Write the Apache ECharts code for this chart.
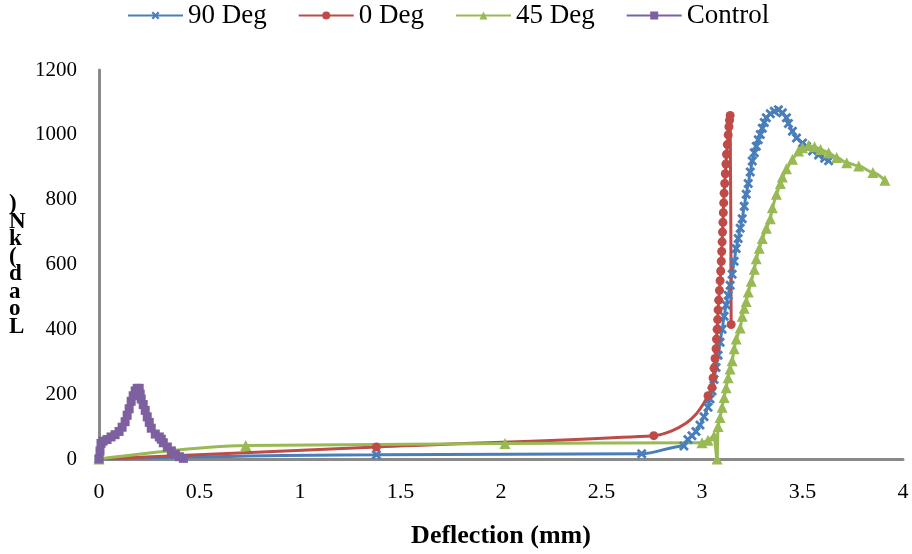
<!DOCTYPE html>
<html>
<head>
<meta charset="utf-8">
<script src="https://cdn.jsdelivr.net/npm/echarts@6/dist/echarts.min.js"></script>
<style>
html,body{margin:0;padding:0;background:#fff;}
#chart{width:912px;height:554px;}
</style>
</head>
<body>
<div id="chart"></div>
<script>
var seriesNames = ['90 Deg', '0 Deg', '45 Deg', 'Control'];
var xTicks = ['0', '0.5', '1', '1.5', '2', '2.5', '3', '3.5', '4'];
var yTicks = ['0', '200', '400', '600', '800', '1000', '1200'];
var xTitle = 'Deflection (mm)';
var yTitle = 'Load (kN)';

var deg90 = [[0,0],[1.38,13],[2.70,16],[2.91,40],[2.93,60],[2.95,72],[2.97,85],[2.99,105],[3.01,130],[3.03,160],[3.04,185],[3.05,210],[3.06,245],[3.07,282],[3.08,320],[3.09,360],[3.10,400],[3.11,440],[3.12,475],[3.13,505],[3.14,536],[3.15,570],[3.16,610],[3.17,649],[3.18,680],[3.19,712],[3.20,741],[3.21,780],[3.22,817],[3.23,850],[3.24,885],[3.25,919],[3.26,945],[3.27,965],[3.28,985],[3.29,1001],[3.30,1020],[3.31,1038],[3.32,1053],[3.34,1065],[3.36,1073],[3.38,1077],[3.40,1068],[3.42,1053],[3.43,1035],[3.45,1011],[3.47,990],[3.50,975],[3.52,965],[3.55,950],[3.58,938],[3.61,928],[3.63,920]];

var deg0 = [[0,0],[1.38,37],[2.76,72],[3.03,195],[3.05,220],[3.055,250],[3.06,280],[3.065,310],[3.07,340],[3.072,370],[3.075,400],[3.078,430],[3.08,460],[3.083,490],[3.087,520],[3.09,550],[3.093,580],[3.096,610],[3.098,640],[3.10,670],[3.102,700],[3.104,730],[3.106,760],[3.108,790],[3.11,820],[3.113,850],[3.116,880],[3.119,910],[3.122,940],[3.126,970],[3.13,1000],[3.134,1025],[3.137,1045],[3.14,1060],[3.145,415]];
// points read along the unmarked stretch of the 0 Deg curve (drawn without a marker)
var deg0Curve = [[2.85,87],[2.92,110],[2.97,138],[3.005,168]];

var deg45 = [[0,0],[0.73,42],[2.02,48],[3.0,50],[3.03,58],[3.06,72],[3.075,0],[3.08,100],[3.09,128],[3.10,160],[3.11,190],[3.12,220],[3.13,251],[3.14,278],[3.15,303],[3.16,340],[3.17,370],[3.19,404],[3.20,440],[3.21,465],[3.22,486],[3.23,515],[3.245,548],[3.26,585],[3.27,618],[3.285,650],[3.30,680],[3.32,712],[3.34,741],[3.35,775],[3.37,817],[3.39,850],[3.40,870],[3.42,895],[3.45,925],[3.48,950],[3.50,960],[3.53,967],[3.56,963],[3.59,955],[3.63,945],[3.67,930],[3.72,914],[3.78,904],[3.85,884],[3.91,860]];

var control = [[0,0],[0.005,25],[0.01,48],[0.02,55],[0.04,60],[0.06,68],[0.08,75],[0.10,85],[0.115,98],[0.13,115],[0.14,135],[0.15,155],[0.16,178],[0.17,195],[0.18,210],[0.19,218],[0.20,218],[0.205,200],[0.21,185],[0.22,168],[0.23,150],[0.24,130],[0.25,113],[0.26,95],[0.28,77],[0.30,68],[0.31,61],[0.32,50],[0.34,37],[0.36,25],[0.38,15],[0.40,7],[0.42,2]];

var colors = ['#4A7EBB', '#BE4B48', '#98B954', '#7D60A0'];
var serif = '"Liberation Serif", "Times New Roman", serif';
var starPath = 'path://M2,0 L5,3 L8,0 L10,2 L7,5 L10,8 L8,10 L5,7 L2,10 L0,8 L3,5 L0,2 Z';

function mk(name, data, color, symbol, size, monotone) {
  var s = {
    name: name, type: 'line', data: data, smooth: 0.3,
    symbol: symbol, symbolSize: size, showSymbol: true,
    lineStyle: {color: color, width: 3},
    itemStyle: {color: color},
    emphasis: {disabled: true}
  };
  if (monotone) s.smoothMonotone = 'x';
  return s;
}

var deg0Data = [];
deg0.forEach(function (p) {
  deg0Data.push({value: p});
  if (p[0] === 2.76) {
    deg0Curve.forEach(function (q) { deg0Data.push({value: q, symbol: 'none'}); });
  }
});

var chart = echarts.init(document.getElementById('chart'));
chart.setOption({
  animation: false,
  color: colors,
  legend: {
    data: seriesNames, top: -3, left: 122, itemGap: 31,
    itemWidth: 55, itemHeight: 10,
    textStyle: {fontFamily: serif, fontSize: 27, color: '#000'}
  },
  grid: {left: 99, right: 9, top: 70, bottom: 92},
  xAxis: {
    type: 'value', min: 0, max: 4, interval: 0.5,
    name: xTitle, nameLocation: 'middle', nameGap: 64,
    nameTextStyle: {fontFamily: serif, fontSize: 26, fontWeight: 'bold', color: '#000'},
    axisLine: {lineStyle: {color: '#898989', width: 3}},
    axisTick: {show: false},
    splitLine: {show: false},
    axisLabel: {fontFamily: serif, fontSize: 22, color: '#000', margin: 22,
      formatter: function (v) { var i = Math.round(v / 0.5); return xTicks[i] !== undefined ? xTicks[i] : ''; }}
  },
  yAxis: {
    type: 'value', min: 0, max: 1200, interval: 200,
    axisLine: {show: true, lineStyle: {color: '#898989', width: 3}},
    axisTick: {show: false},
    splitLine: {show: false},
    axisLabel: {fontFamily: serif, fontSize: 21, color: '#000', margin: 22,
      formatter: function (v) { var i = Math.round(v / 200); return yTicks[i] !== undefined ? yTicks[i] : ''; }}
  },
  graphic: [{
    type: 'text', left: 9, top: 193,
    style: {
      text: yTitle.split('').reverse().filter(function (c) { return c !== ' '; }).join('\n'),
      font: 'bold 23px ' + serif, lineHeight: 17.5, fill: '#000', align: 'center'
    }
  }],
  series: [
    mk(seriesNames[0], deg90, colors[0], starPath, 10, true),
    mk(seriesNames[1], deg0Data, colors[1], 'circle', 9, false),
    mk(seriesNames[2], deg45, colors[2], 'triangle', 11, true),
    mk(seriesNames[3], control, colors[3], 'rect', 9, true)
  ]
});
</script>
</body>
</html>
